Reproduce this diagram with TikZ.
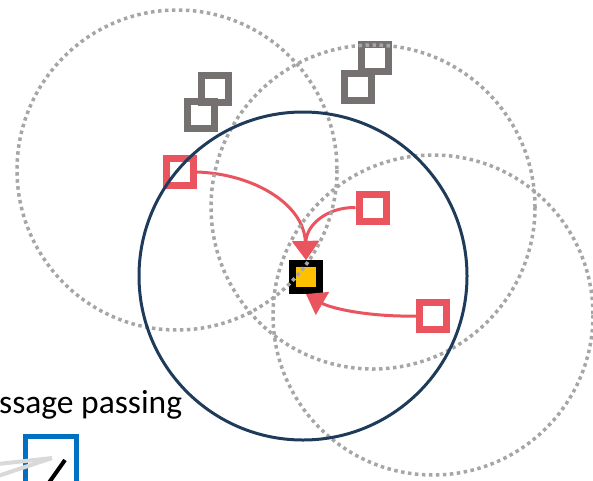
\documentclass[tikz,border=0pt]{standalone}
\usepackage{fontspec}
\setmainfont{Carlito}
\usetikzlibrary{arrows.meta}
\definecolor{ringgray}{HTML}{A6A6A6}
\definecolor{ringnavy}{HTML}{1F3B5A}
\definecolor{msgred}{HTML}{E9545E}
\definecolor{nodegray}{HTML}{767171}
\definecolor{targetyellow}{HTML}{FFC000}
\definecolor{panelblue}{HTML}{0070C0}
\definecolor{lightgray}{HTML}{D9D9D9}
\tikzset{
  cell/.style={draw, line width=7pt, minimum size=27pt, inner sep=0pt, shape=rectangle},
  neighbour/.style={cell, draw=msgred},
  farnode/.style={cell, draw=nodegray},
  target/.style={cell, draw=black, fill=targetyellow},
  ring/.style={draw=ringgray, line width=3.5pt, dash pattern=on 3.5pt off 3.5pt},
  hop/.style={draw=ringnavy, line width=3pt},
  message/.style={draw=msgred, line width=3pt,
    -{Triangle[width=26pt,length=19pt]}, fill=none},
}
\begin{document}
\begin{tikzpicture}[x=1pt,y=-1pt]
\useasboundingbox (0,0) rectangle (593,480);
\clip (0,0) rectangle (593,480);

% far-away nodes
\node[farnode] (g1) at (201,115) {};
\node[farnode] (g2) at (214.5,89) {};
\node[farnode] (g3) at (358,87) {};
\node[farnode] (g4) at (375,57.5) {};

% neighbours and the target node
\node[neighbour] (n1) at (180,172) {};
\node[neighbour] (n2) at (372.5,207.5) {};
\node[neighbour] (n3) at (433,316) {};
\node[target] (t) at (306,277) {};

% messages flowing to the target
\draw[message] (n1.east) .. controls (255,174) and (304,205) .. (t.north);
\draw[message] (n2.west) .. controls (326,207) and (306,226) .. (t.north);
\draw[message] (n3.west) .. controls (372,317) and (332,309) .. (t.south);

% receptive fields
\coordinate (c1) at (177,170);
\coordinate (c2) at (373,207);
\coordinate (c3) at (433,315);
\coordinate (c0) at (303,276);
\draw[ring] (c1) circle[radius=160];
\draw[ring] (c2) circle[radius=162];
\draw[ring] (c3) circle[radius=160];
\draw[hop] (c0) circle[radius=164];

% caption
\node[anchor=base west, inner sep=0pt, font=\fontsize{33.5}{40}\selectfont] (cap) at (-1,413) {ssage passing};

% corner of the next panel
\coordinate (p0) at (25.5,436);
\draw[panelblue, line width=5pt] (25.5,490) -- (p0) -- (76.5,436) -- (76.5,490);
\coordinate (w0) at (52,458);
\draw[lightgray, line width=4pt] (w0) -- (-2,464);
\draw[lightgray, line width=4pt] (w0) -- (-2,476);
\coordinate (s0) at (65,460);
\draw[black, line width=4pt] (s0) -- (48,484);
\end{tikzpicture}
\end{document}
